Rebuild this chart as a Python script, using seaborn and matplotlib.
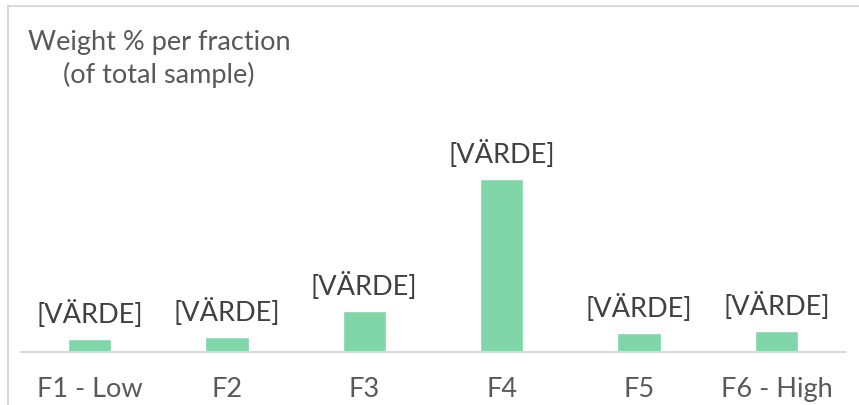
import pandas as pd
import seaborn as sns
import matplotlib.pyplot as plt
from matplotlib.patches import Rectangle

sns.set_style("white")
plt.rcParams['font.family'] = ['Lato', 'DejaVu Sans']

# data (weight % per fraction)
fractions = ['F1 - Low', 'F2', 'F3', 'F4', 'F5', 'F6 - High']
weight_pct = [4.6, 5.3, 14.5, 61.3, 6.7, 7.4]
bar_labels = ['[VÄRDE]'] * 6

df = pd.DataFrame({'fraction': fractions, 'weight': weight_pct})

fig = plt.figure(figsize=(8.59, 4.05), dpi=100)
ax = fig.add_axes([20.8 / 859, 53 / 405, 824.4 / 859, 254 / 405])

sns.barplot(data=df, x='fraction', y='weight', color='#80D5A9',
            width=0.317, saturation=1, ax=ax)

ax.set_ylim(0, 90)
ax.set_xlim(-0.5, 5.5)
ax.set_yticks([])
ax.set_xlabel('')
ax.set_ylabel('')
for s in ['top', 'right', 'left']:
    ax.spines[s].set_visible(False)
ax.spines['bottom'].set_color('#D9D9D9')
ax.spines['bottom'].set_linewidth(1.5)
ax.tick_params(axis='x', length=0, pad=18, labelsize=19.5, labelcolor='#595959')

for bar, lab in zip(ax.patches, bar_labels):
    ax.annotate(lab, (bar.get_x() + bar.get_width() / 2, bar.get_height()),
                xytext=(0, 8), textcoords='offset points',
                ha='center', va='bottom', fontsize=19.5, color='#404040')

fig.text(159 / 859, 1 - 59 / 405, 'Weight % per fraction\n(of total sample)',
         ha='center', va='center', fontsize=19.5, color='#595959', linespacing=1.3)

# chart area border (cut off at right/bottom)
fig.patches.append(Rectangle((8 / 859, -0.1), 1.2, 1 - 6 / 405 + 0.1,
                             transform=fig.transFigure, fill=False,
                             edgecolor='#D9D9D9', linewidth=1.5))

fig.savefig('out.png', dpi=100)
